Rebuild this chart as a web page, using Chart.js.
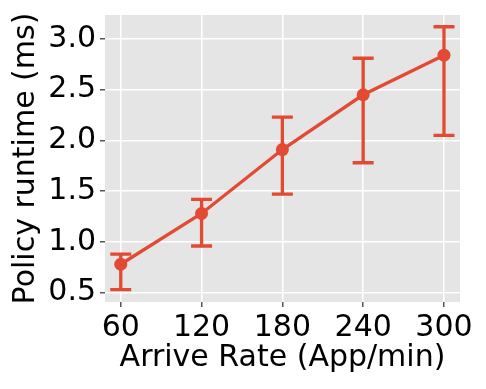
<!DOCTYPE html>
<html>
<head>
<meta charset="utf-8">
<script src="https://cdn.jsdelivr.net/npm/chart.js@4.4.0/dist/chart.umd.min.js"></script>
<style>
  html, body { margin: 0; padding: 0; background: #fff; }
  #wrap { width: 486px; height: 389px; }
</style>
</head>
<body>
<div id="wrap"><canvas id="myChart"></canvas></div>
<script>
var rates = [60, 120, 180, 240, 300]
var runtime = [0.78, 1.28, 1.91, 2.45, 2.84]
var errLow = [0.53, 0.96, 1.47, 1.78, 2.05]
var errHigh = [0.88, 1.42, 2.23, 2.81, 3.12]
var xTicks = [60, 120, 180, 240, 300]
var yTicks = [0.5, 1.0, 1.5, 2.0, 2.5, 3.0]

var red = "#E24A33"

var bgPlugin = {
  id: "bg",
  beforeDraw: function(chart) {
    var a = chart.chartArea
    var ctx = chart.ctx
    ctx.save()
    ctx.fillStyle = "#E5E5E5"
    ctx.fillRect(a.left, a.top, a.right - a.left, a.bottom - a.top)
    ctx.restore()
  }
}

var errPlugin = {
  id: "errbars",
  beforeDatasetsDraw: function(chart) {
    var ctx = chart.ctx
    var xs = chart.scales.x
    var ys = chart.scales.y
    ctx.save()
    ctx.strokeStyle = red
    ctx.lineWidth = 3.3
    for (var i = 0; i < rates.length; i++) {
      var x = xs.getPixelForValue(rates[i])
      var y1 = ys.getPixelForValue(errLow[i])
      var y2 = ys.getPixelForValue(errHigh[i])
      ctx.beginPath()
      ctx.moveTo(x, y1); ctx.lineTo(x, y2)
      ctx.moveTo(x - 10.5, y1); ctx.lineTo(x + 10.5, y1)
      ctx.moveTo(x - 10.5, y2); ctx.lineTo(x + 10.5, y2)
      ctx.stroke()
    }
    ctx.restore()
  }
}

var font = { family: "DejaVu Sans", size: 30 }

var myChart = new Chart("myChart", {
  type: "line",
  data: {
    datasets: [{
      data: rates.map(function(r, i) { return { x: r, y: runtime[i] } }),
      borderColor: red,
      backgroundColor: red,
      borderWidth: 3.3,
      pointRadius: 6.5,
      pointBorderWidth: 0,
      pointBackgroundColor: red,
      tension: 0
    }]
  },
  options: {
    responsive: true,
    maintainAspectRatio: false,
    animation: false,
    layout: { padding: { left: 8, right: 26, top: 15, bottom: 8 } },
    plugins: { legend: { display: false }, tooltip: { enabled: false } },
    scales: {
      x: {
        type: "linear",
        min: 48.3,
        max: 311.9,
        afterBuildTicks: function(s) { s.ticks = xTicks.map(function(v) { return { value: v } }) },
        afterFit: function(s) { s.height = 79; s.paddingLeft = 0; s.paddingRight = 0 },
        grid: { color: "#fff", lineWidth: 1.5, tickColor: "#555", tickLength: 5, drawOnChartArea: true },
        border: { display: false },
        ticks: { color: "#000", font: font, padding: 3, maxRotation: 0 },
        title: { display: true, text: "Arrive Rate (App/min)", color: "#000", font: font, padding: { top: 0, bottom: 5 } }
      },
      y: {
        min: 0.408,
        max: 3.236,
        afterBuildTicks: function(s) { s.ticks = yTicks.map(function(v) { return { value: v } }) },
        afterFit: function(s) { s.width = 97; s.paddingTop = 0; s.paddingBottom = 0 },
        grid: { color: "#fff", lineWidth: 1.5, tickColor: "#555", tickLength: 5 },
        border: { display: false },
        ticks: { color: "#000", font: font, padding: 4, callback: function(v) { return v.toFixed(1) } },
        title: { display: true, text: "Policy runtime (ms)", color: "#000", font: font, padding: { top: 0, bottom: 0 } }
      }
    }
  },
  plugins: [bgPlugin, errPlugin]
})
</script>
</body>
</html>
